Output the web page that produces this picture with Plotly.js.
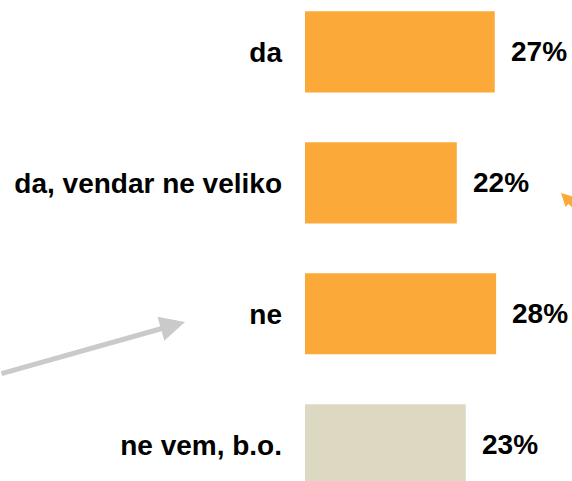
<!DOCTYPE html>
<html>
<head>
<meta charset="utf-8">
<script src="https://cdn.plot.ly/plotly-3.0.1.min.js"></script>
<style>html,body{margin:0;padding:0;background:#fff;}#chart{width:572px;height:481px;}</style>
</head>
<body>
<div id="chart"></div>
<script>
const categories = ["da", "da, vendar ne veliko", "ne", "ne vem, b.o."];
const values = [27.5, 22.0, 27.7, 23.3];
const valueLabels = ["27%", "22%", "28%", "23%"];
const barColors = ["#FBAA39", "#FBAA39", "#FBAA39", "#DDD8C1"];

const font = {family: "'Liberation Sans', Arial, sans-serif", size: 28, color: "#000", weight: "bold"};

const ML = 305, PW = 267, PH = 481;
const px = p => (p - ML) / PW;
const py = p => 1 - p / PH;

const annotations = categories.map((c, i) => ({
  x: values[i], y: c, xref: "x", yref: "y",
  text: valueLabels[i], showarrow: false,
  xanchor: "left", yanchor: "middle", xshift: 14,
  font: font
}));

// grey arrow
annotations.push({
  xref: "paper", yref: "paper",
  x: px(185), y: py(322),
  axref: "pixel", ayref: "pixel", ax: -200, ay: 52,
  text: "", showarrow: true, arrowhead: 2, arrowsize: 1,
  arrowwidth: 5, arrowcolor: "#CACACA"
});

// orange arrow head (mostly off-canvas)
const shapes = [
  {type: "line", xref: "paper", yref: "paper",
   x0: px(567), y0: py(199), x1: px(640), y1: py(270),
   line: {color: "#FBAA39", width: 5}},
  {type: "path", xref: "paper", yref: "paper",
   path: `M${px(561)},${py(193)} L${px(565.5)},${py(207)} L${px(575)},${py(197)} Z`,
   fillcolor: "#FBAA39", line: {width: 0}}
];

const data = [{
  type: "bar",
  orientation: "h",
  y: categories,
  x: values,
  width: 0.62,
  marker: {color: barColors},
  hoverinfo: "none"
}];

const layout = {
  width: 572, height: 481,
  margin: {l: ML, r: 0, t: 0, b: 0, pad: 0},
  paper_bgcolor: "#fff", plot_bgcolor: "#fff",
  showlegend: false,
  xaxis: {range: [0, PW / 6.9], visible: false, showgrid: false, zeroline: false},
  yaxis: {
    type: "category", categoryorder: "array", categoryarray: categories,
    range: [3.277, -0.396],
    showgrid: false, zeroline: false, showline: false, ticks: "",
    ticklabelstandoff: 22,
    tickfont: font
  },
  annotations: annotations,
  shapes: shapes
};

Plotly.newPlot("chart", data, layout, {displayModeBar: false, staticPlot: true});
</script>
</body>
</html>
